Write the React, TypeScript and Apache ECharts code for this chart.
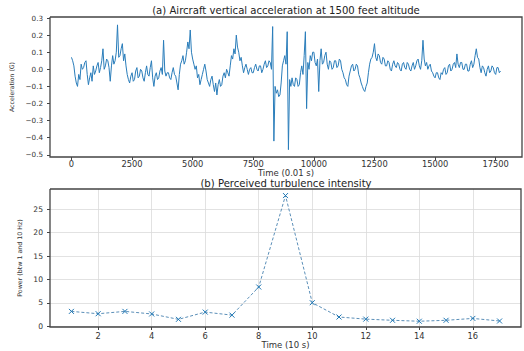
import React, { useEffect, useRef } from "react";
import * as echarts from "echarts";

// (a) vertical acceleration, one value read every 50 samples (0.01 s each)
const SAMPLE_STEP = 50;
const accelValues = [
  0.07, 0.05, 0.02, -0.04, -0.08, -0.1, -0.03, -0.06, 0.03, 0.0, 0.01, 0.04, 0.05, -0.03, -0.09, -0.05, -0.02, -0.07, 0.02, -0.03,
  -0.01, 0.02, 0.04, -0.02, 0.01, 0.05, 0.12, 0.0, 0.02, 0.06, 0.05, 0.01, -0.07, 0.02, 0.08, 0.03, 0.05, 0.1, 0.26, 0.07,
  0.08, 0.12, 0.15, 0.05, 0.09, 0.02, -0.03, -0.06, -0.08, -0.04, -0.02, -0.07, -0.06, -0.01, 0.01, -0.05, -0.04, 0.0, -0.01, -0.05,
  -0.07, -0.02, 0.02, -0.03, -0.04, 0.01, 0.05, -0.05, -0.1, -0.04, -0.02, -0.06, -0.05, -0.01, 0.01, -0.03, 0.17, -0.01, -0.04, -0.02,
  -0.02, -0.05, -0.06, -0.02, 0.01, -0.03, -0.04, -0.08, -0.12, -0.03, 0.03, 0.05, 0.08, 0.03, 0.05, 0.1, 0.16, 0.12, 0.23, 0.1,
  0.06, 0.03, 0.0, 0.02, -0.05, -0.03, -0.09, -0.06, -0.03, 0.0, 0.03, -0.01, -0.06, -0.08, -0.1, -0.06, -0.04, -0.09, -0.13, -0.08,
  -0.15, -0.09, -0.06, -0.1, -0.09, -0.04, -0.02, -0.05, 0.0, -0.02, -0.04, 0.02, 0.08, 0.06, 0.12, 0.09, 0.2, 0.13, 0.1, 0.05,
  0.07, 0.02, -0.02, 0.01, 0.03, 0.0, -0.03, 0.0, 0.01, -0.02, -0.02, 0.01, 0.03, 0.0, -0.01, 0.02, 0.02, -0.02, 0.0, 0.03,
  0.05, 0.01, 0.02, 0.05, 0.04, 0.0, 0.25, -0.42, -0.1, -0.14, -0.12, -0.16, -0.15, -0.08, 0.02, 0.05, 0.08, 0.03, 0.22, -0.47,
  -0.06, -0.1, -0.05, -0.09, -0.1, -0.05, -0.06, -0.1, -0.09, -0.02, 0.02, -0.03, 0.08, 0.22, -0.23, 0.04, 0.0, 0.08, 0.05, 0.1,
  0.1, 0.04, 0.02, 0.06, -0.13, 0.05, 0.12, 0.03, 0.04, 0.08, 0.1, 0.03, 0.0, 0.05, 0.04, 0.0, 0.01, 0.05, 0.05, 0.01,
  0.02, 0.06, 0.05, 0.0, -0.02, -0.05, -0.06, -0.09, -0.1, -0.04, -0.01, 0.02, 0.03, -0.01, 0.0, 0.03, 0.02, -0.03, -0.05, -0.08,
  -0.1, -0.12, -0.13, -0.1, -0.08, -0.02, 0.03, 0.06, 0.07, 0.1, 0.15, 0.07, 0.05, 0.09, 0.08, 0.04, 0.03, 0.07, 0.06, 0.02,
  0.02, 0.05, 0.04, 0.0, -0.01, 0.03, 0.05, 0.02, 0.01, 0.04, 0.03, 0.0, -0.01, 0.03, 0.04, 0.01, 0.0, 0.04, 0.03, 0.0,
  -0.01, 0.02, 0.04, 0.0, 0.02, 0.05, 0.06, 0.02, 0.0, 0.05, 0.17, 0.06, 0.02, 0.04, 0.0, 0.02, 0.03, -0.01, -0.02, -0.04,
  -0.05, -0.02, -0.02, -0.05, -0.06, -0.02, -0.03, 0.0, 0.01, -0.03, -0.02, 0.02, 0.03, -0.01, 0.0, 0.03, 0.04, 0.01, 0.09, 0.03,
  0.01, 0.04, 0.04, 0.0, 0.0, 0.03, 0.03, -0.01, -0.01, 0.03, 0.05, 0.01, 0.03, 0.08, 0.12, 0.07, 0.06, 0.01, -0.02, 0.02,
  0.01, -0.02, -0.04, 0.0, 0.02, -0.02, -0.01, 0.02, 0.01, -0.02, -0.03, 0.01, 0.01, -0.02, -0.01,
];
const accelTicksX = [0, 2500, 5000, 7500, 10000, 12500, 15000, 17500];
const accelTicksY = [-0.5, -0.4, -0.3, -0.2, -0.1, 0.0, 0.1, 0.2, 0.3];

// (b) perceived turbulence intensity
const powerTimes = [1, 2, 3, 4, 5, 6, 7, 8, 9, 10, 11, 12, 13, 14, 15, 16, 17];
const powerValues = [3.2, 2.7, 3.2, 2.65, 1.5, 3.05, 2.4, 8.4, 27.9, 5.05, 2.0, 1.55, 1.3, 1.1, 1.3, 1.7, 1.15];
const powerTicksX = [2, 4, 6, 8, 10, 12, 14, 16];
const powerTicksY = [0, 5, 10, 15, 20, 25];

const FONT = "DejaVu Sans";
const BLUE = "#1f77b4";
const TEXT = "#333";
const SPINE = "#444";

const ACC_X = { min: -885, max: 18585 };
const ACC_Y = { min: -0.513, max: 0.306 };
const POW_X = { min: 0.2, max: 17.8 };
const POW_Y = { min: -0.13, max: 29.3 };

const BOX_A = { x: 50, y: 17, w: 472, h: 140 };
const BOX_B = { x: 50, y: 189, w: 471, h: 138 };

export default function App() {
  const ref = useRef<HTMLDivElement>(null);
  useEffect(() => {
    if (!ref.current) return;
    const chart = echarts.init(ref.current, undefined, { renderer: "svg" });
    const accelData = accelValues.map((v, i) => [i * SAMPLE_STEP, v]);
    const powerData = powerTimes.map((t, i) => [t, powerValues[i]]);
    const fmtY = (v: number) => {
      const r = Math.round(v * 10) / 10;
      return r < 0 ? "\u2212" + Math.abs(r).toFixed(1) : r.toFixed(1);
    };
    const fmtInt = (v: number) => String(Math.round(v));
    const frame = (b: { x: number; y: number; w: number; h: number }) => ({
      type: "polyline", z: 200,
      shape: { points: [[b.x, b.y], [b.x + b.w, b.y], [b.x + b.w, b.y + b.h], [b.x, b.y + b.h], [b.x, b.y]] },
      style: { fill: null, stroke: SPINE, lineWidth: 1.3 },
    });
    chart.setOption({
      animation: false,
      title: [
        {
          text: "(a) Aircraft vertical acceleration at 1500 feet altitude",
          left: 286, top: 5, padding: 0, textAlign: "center",
          textStyle: { fontFamily: FONT, fontSize: 10.1, fontWeight: "normal", color: "#222" },
        },
        {
          text: "(b) Perceived turbulence intensity",
          left: 286, top: 178, padding: 0, textAlign: "center",
          textStyle: { fontFamily: FONT, fontSize: 10.1, fontWeight: "normal", color: "#222" },
        },
      ],
      graphic: [frame(BOX_A), frame(BOX_B)],
      grid: [
        { left: BOX_A.x, top: BOX_A.y, width: BOX_A.w, height: BOX_A.h },
        { left: BOX_B.x, top: BOX_B.y, width: BOX_B.w, height: BOX_B.h },
      ],
      xAxis: [
        {
          type: "value", gridIndex: 0, position: "bottom", ...ACC_X,
          name: "Time (0.01 s)", nameLocation: "middle", nameGap: 11,
          nameTextStyle: { fontFamily: FONT, fontSize: 8.5, color: TEXT, verticalAlign: "top" },
          axisLine: { show: false, onZero: false },
          axisTick: { show: true, length: 3, lineStyle: { color: SPINE }, customValues: accelTicksX },
          axisLabel: { fontFamily: FONT, fontSize: 8.3, color: TEXT, margin: 3, customValues: accelTicksX, formatter: fmtInt },
          splitLine: { show: false },
        },
        {
          type: "value", gridIndex: 1, position: "bottom", ...POW_X,
          name: "Time (10 s)", nameLocation: "middle", nameGap: 12,
          nameTextStyle: { fontFamily: FONT, fontSize: 8.5, color: TEXT, verticalAlign: "top" },
          axisLine: { show: false, onZero: false },
          axisTick: { show: true, length: 3, lineStyle: { color: SPINE }, customValues: powerTicksX },
          axisLabel: { fontFamily: FONT, fontSize: 8.3, color: TEXT, margin: 4.5, customValues: powerTicksX, formatter: fmtInt },
          splitLine: { show: true, lineStyle: { color: "#dadada", width: 0.8 } },
        },
      ],
      yAxis: [
        {
          type: "value", gridIndex: 0, position: "left", ...ACC_Y,
          name: "Acceleration (G)", nameLocation: "middle", nameGap: 32, nameRotate: 90,
          nameTextStyle: { fontFamily: FONT, fontSize: 6.2, color: TEXT },
          axisLine: { show: false, onZero: false },
          axisTick: { show: true, length: 3, lineStyle: { color: SPINE }, customValues: accelTicksY },
          axisLabel: { fontFamily: FONT, fontSize: 7.2, color: TEXT, margin: 7, customValues: accelTicksY, formatter: fmtY },
          splitLine: { show: false },
        },
        {
          type: "value", gridIndex: 1, position: "left", ...POW_Y,
          name: "Power (btw 1 and 10 Hz)", nameLocation: "middle", nameGap: 23, nameRotate: 90,
          nameTextStyle: { fontFamily: FONT, fontSize: 6.3, color: TEXT },
          axisLine: { show: false, onZero: false },
          axisTick: { show: true, length: 3, lineStyle: { color: SPINE }, customValues: powerTicksY },
          axisLabel: { fontFamily: FONT, fontSize: 7.6, color: TEXT, margin: 7, customValues: powerTicksY, formatter: fmtInt },
          splitLine: { show: true, lineStyle: { color: "#dadada", width: 0.8 } },
        },
      ],
      series: [
        {
          type: "line", xAxisIndex: 0, yAxisIndex: 0, data: accelData,
          showSymbol: false, symbol: "none",
          lineStyle: { color: "#2a7dba", width: 1.0 },
        },
        {
          type: "line", xAxisIndex: 1, yAxisIndex: 1, data: powerData,
          symbol: "path://M0,0L10,10M10,0L0,10", symbolSize: 5,
          itemStyle: { color: "none", borderColor: BLUE, borderWidth: 1 },
          lineStyle: { color: "#5b8fb8", width: 1, type: [3, 2] },
        },
      ],
    });
    return () => chart.dispose();
  }, []);
  return <div ref={ref} style={{ width: 524, height: 351, position: "absolute", left: 0, top: 0 }} />;
}
